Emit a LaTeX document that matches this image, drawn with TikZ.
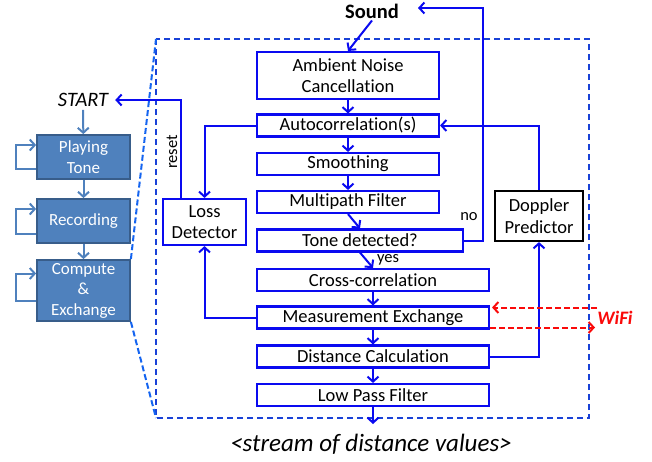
\documentclass[tikz,border=0pt]{standalone}
\usepackage{fontspec}
\setmainfont{Carlito}[Ligatures=NoCommon]
\usetikzlibrary{arrows.meta}
\definecolor{flowblue}{RGB}{10,10,240}
\definecolor{zoomblue}{RGB}{25,65,215}
\definecolor{fanblue}{RGB}{20,100,240}
\definecolor{stepfill}{RGB}{79,129,189}
\definecolor{stepedge}{RGB}{56,93,138}
\definecolor{wifired}{RGB}{250,10,10}

\begin{document}
\begin{tikzpicture}[x=1pt,y=-1pt,
  box/.style={draw=flowblue,line width=2.1pt,minimum height=22pt,inner sep=0pt,
    font=\fontsize{18.5}{21.5}\selectfont},
  stepbox/.style={draw=stepedge,fill=stepfill,line width=1.8pt,minimum width=93pt,
    inner sep=0pt,align=center,text=white,font=\fontsize{17}{20.5}\selectfont},
  lbl/.style={inner sep=1pt,font=\fontsize{16.5}{18}\selectfont},
  flow/.style={draw=flowblue,line width=2pt,-{Straight Barb[length=5pt,width=11pt]}},
  leftflow/.style={draw=stepfill,line width=2pt,-{Straight Barb[length=5pt,width=11pt]}},
  wifiarrow/.style={draw=wifired,line width=2pt,dash pattern=on 6pt off 3pt,
    -{Straight Barb[length=5pt,width=11pt]}}]
  \useasboundingbox (0,0) rectangle (652,461);
  %
  \node[stepbox,minimum height=44pt] (play) at (83.5,157) {Playing\\Tone};
  \node[stepbox,minimum height=44pt] (rec) at (83.5,221) {Recording};
  \node[stepbox,minimum height=61pt] (comp) at (83.5,290.5) {Compute\\\&\\Exchange};
  \node[inner xsep=7pt,inner ysep=3pt,font=\fontsize{20.5}{22}\itshape] (start) at (83,100) {START};
  \draw[leftflow] (start) -- (play);
  \draw[leftflow] (play) -- (rec);
  \draw[leftflow] (rec) -- (comp);
  \draw[leftflow] ([yshift=-12pt]play.west) -- ++(-20,0) |- ([yshift=12pt]play.west);
  \draw[leftflow] ([yshift=-13pt]rec.west) -- ++(-20,0) |- ([yshift=12pt]rec.west);
  \draw[leftflow] ([yshift=-10pt]comp.west) -- ++(-20,0) |- ([yshift=17pt]comp.west);
  %
  \coordinate (boxnw) at (156,39);
  \coordinate (boxse) at (589,418);
  \draw[zoomblue,line width=2pt,dash pattern=on 6pt off 4pt] (boxnw) rectangle (boxse);
  \draw[fanblue,line width=2pt,dash pattern=on 6pt off 3pt] (comp.north east) -- (boxnw);
  \draw[fanblue,line width=2pt,dash pattern=on 6pt off 3pt] (comp.south east) -- (boxnw |- boxse);
  %
  \node[inner sep=2pt,font=\fontsize{20.5}{24}\bfseries] (sound) at (372,11) {Sound};
  \node[box,minimum width=182pt,minimum height=47pt,align=center] (anc) at (348,75.5) {Ambient Noise\\Cancellation};
  \node[box,minimum width=182pt] (acorr) at (348,125.5) {Autocorrelation(s)};
  \node[box,minimum width=182pt] (smooth) at (348,164) {Smoothing};
  \node[box,minimum width=182pt] (mpath) at (348,202) {Multipath Filter};
  \node[box,minimum width=206pt] (tone) at (360,240.5) {Tone detected?};
  \node[box,minimum width=232pt] (xcorr) at (373,280) {Cross-correlation};
  \node[box,minimum width=232pt] (mexch) at (373,317.5) {Measurement Exchange};
  \node[box,minimum width=232pt] (dcalc) at (373,356.5) {Distance Calculation};
  \node[box,minimum width=232pt] (lpf) at (373,395) {Low Pass Filter};
  \node[box,minimum width=83pt,minimum height=46pt,align=center] (loss) at (204.5,222) {Loss\\Detector};
  \node[box,draw=black,minimum width=88pt,minimum height=50pt,align=center] (doppler) at (539,216) {Doppler\\Predictor};
  \node[inner sep=0pt,font=\fontsize{25}{28}\itshape] (stream) at (371,444) {<stream of distance values>};
  \node[lbl] (yes) at (388,260) {yes};
  \node[lbl] (no) at (469,217) {no};
  \node[lbl,rotate=90] (reset) at (172,152) {reset};
  \node[inner sep=0pt,text=wifired,font=\fontsize{19}{20}\bfseries\itshape] (wifi) at (615,318) {WiFi};
  %
  \draw[flow] (sound.south) -- (anc.north);
  \draw[flow] (anc) -- (acorr);
  \draw[flow] (acorr) -- (smooth);
  \draw[flow] (smooth) -- (mpath);
  \draw[flow] (mpath.south) -- (tone.north);
  \draw[flow] (tone.south) -- (xcorr.north);
  \draw[flow] (xcorr) -- (mexch);
  \draw[flow] (mexch) -- (dcalc);
  \draw[flow] (dcalc) -- (lpf);
  \coordinate (streamin) at (373,424);
  \draw[flow] (lpf) -- (streamin);
  \draw[flow] (acorr.west) -| (loss.north);
  \draw[flow] (mexch.west) -| (loss.south);
  \draw[flow] (doppler.north) |- (acorr.east);
  \draw[flow] (dcalc.east) -| (doppler.south);
  \coordinate (nocorner) at (483,8);
  \coordinate (noend) at (418,8);
  \draw[flow] (tone.east) -| (nocorner) -- (noend);
  \coordinate (resetcorner) at (181,100);
  \draw[flow] (resetcorner |- loss.north) -- (resetcorner) -- (start.east);
  %
  \coordinate (wifiin) at (597,307.5);
  \coordinate (wifiout) at (595,327.5);
  \draw[wifiarrow,shorten >=2pt] (wifiin) -- ([yshift=10pt]mexch.east);
  \draw[wifiarrow] ([yshift=-10pt]mexch.east) -- (wifiout);
\end{tikzpicture}
\end{document}
